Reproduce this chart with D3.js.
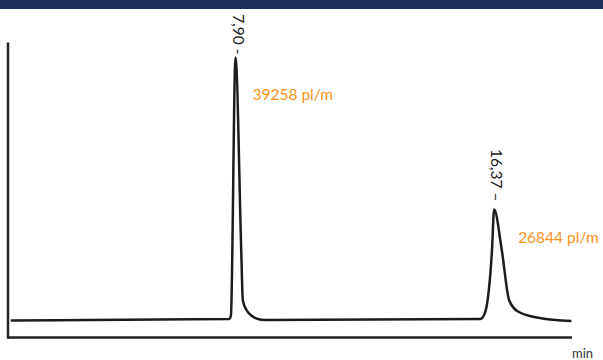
<!DOCTYPE html>
<html>
<head>
<meta charset="utf-8">
<script src="https://cdn.jsdelivr.net/npm/d3@7"></script>
<style>
  body { margin: 0; background: #fff; }
  svg { display: block; font-family: Lato, 'Open Sans', sans-serif; }
</style>
</head>
<body>
<div id="chart-area"></div>
<script>
// Chromatogram trace: time (min) and detector signal
let times = [0.54, 7.69, 7.75, 7.90, 8.09, 8.14, 8.27, 8.44, 8.63, 8.86,
  15.91, 16.04, 16.12, 16.30, 16.37, 16.62, 16.86, 17.15, 17.86, 18.90];
let signal = [17, 18.5, 22, 280, 85, 37, 27, 21.5, 18.5, 17.5,
  18.5, 22.5, 30.5, 87.5, 128, 87.5, 37.5, 26, 19.5, 16.5];

// Peaks
let peakTimes = [7.90, 16.37];
let peakHeights = [280, 128];
let peakLabels = ['7,90 -', '16,37 \u2013'];
let flowLabels = ['39258 pl/m', '26844 pl/m'];

let width = 603, height = 360;

let svg = d3
  .select('#chart-area')
  .append('svg')
  .attr('width', width)
  .attr('height', height);

// Header band
svg.append('rect')
  .attr('x', 0).attr('y', 0)
  .attr('width', width).attr('height', 9)
  .attr('fill', '#1e2f5f');

// Scales
let x = d3.scaleLinear().domain([0.45, 18.92]).range([8, 572]);
let y = d3.scaleLinear().domain([0, 295]).range([337.5, 42.5]);

// Axes (plain lines, no ticks)
svg.append('line')
  .attr('x1', x(0.45)).attr('x2', x(0.45))
  .attr('y1', y(295)).attr('y2', y(0) + 1)
  .attr('stroke', '#222').attr('stroke-width', 2.5);
svg.append('line')
  .attr('x1', x(0.45) - 1).attr('x2', x(18.92))
  .attr('y1', y(0)).attr('y2', y(0))
  .attr('stroke', '#222').attr('stroke-width', 2.5);

svg.append('text')
  .attr('x', x(18.92))
  .attr('y', 358)
  .attr('font-size', 13)
  .attr('fill', '#333')
  .text('min');

// Trace
let data = times.map((t, i) => ({ t: t, v: signal[i] }));
let line = d3
  .line()
  .x(d => x(d.t))
  .y(d => y(d.v))
  .curve(d3.curveMonotoneX);

svg.append('path')
  .datum(data)
  .attr('d', line)
  .attr('fill', 'none')
  .attr('stroke', '#1c1c1c')
  .attr('stroke-width', 2.5)
  .attr('stroke-linejoin', 'round');

// Peak retention time labels (rotated)
let labelGap = [3, 8];
peakTimes.forEach(function(t, i) {
  let px = x(t) + 1, py = y(peakHeights[i]) - labelGap[i];
  svg.append('text')
    .attr('transform', 'translate(' + px + ',' + py + ') rotate(90)')
    .attr('text-anchor', 'end')
    .attr('dominant-baseline', 'middle')
    .attr('font-size', 15.5)
    .attr('fill', '#222')
    .text(peakLabels[i]);
});

// Flow labels
let flowDx = [17, 24], flowDy = [42, 33];
peakTimes.forEach(function(t, i) {
  svg.append('text')
    .attr('x', x(t) + flowDx[i])
    .attr('y', y(peakHeights[i]) + flowDy[i])
    .attr('font-size', 15.5)
    .attr('fill', '#f7941d')
    .text(flowLabels[i]);
});
</script>
</body>
</html>
